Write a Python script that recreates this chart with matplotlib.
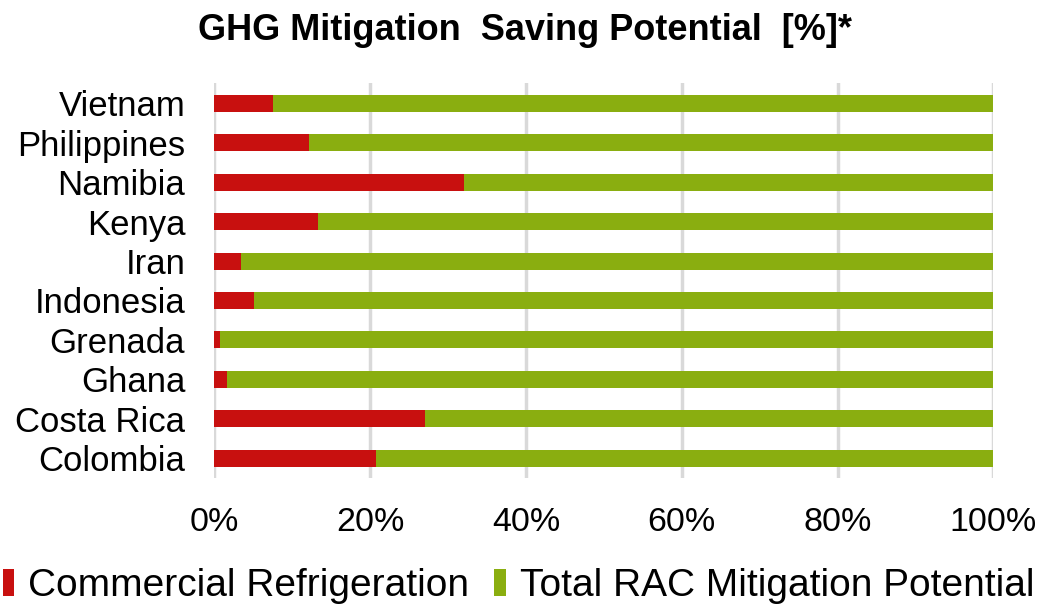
import numpy as np
import matplotlib.pyplot as plt

countries = ['Colombia', 'Costa Rica', 'Ghana', 'Grenada', 'Indonesia',
             'Iran', 'Kenya', 'Namibia', 'Philippines', 'Vietnam']
commercial = [20.8, 27.1, 1.6, 0.75, 5.1, 3.4, 13.3, 32.0, 12.1, 7.5]
total_rac = [100 - v for v in commercial]

red = '#C8100F'
green = '#8AAE10'

plt.rcParams['font.family'] = ['Liberation Sans', 'DejaVu Sans']

fig = plt.figure(figsize=(10.43, 6.09), dpi=100)
ax = fig.add_axes([0.2055, 0.215, 0.747, 0.648])

y = np.arange(len(countries))
ax.barh(y, commercial, height=0.43, color=red, label='Commercial Refrigeration', zorder=3)
ax.barh(y, total_rac, left=commercial, height=0.43, color=green,
        label='Total RAC Mitigation Potential', zorder=3)

ax.set_xlim(0, 100)
ax.set_ylim(-0.5, len(countries) - 0.5)
ax.set_yticks(y)
ax.set_yticklabels(countries, fontsize=25)
ax.set_xticks([0, 20, 40, 60, 80, 100])
ax.set_xticklabels(['0%', '20%', '40%', '60%', '80%', '100%'], fontsize=24.5)
ax.tick_params(axis='y', length=0, pad=21)
ax.tick_params(axis='x', length=0, pad=21)
ax.xaxis.grid(True, color='#D9D9D9', linewidth=2.5, zorder=0)
for s in ax.spines.values():
    s.set_visible(False)

fig.suptitle('GHG Mitigation  Saving Potential  [%]*', fontsize=26,
             fontweight='bold', x=0.503, y=0.978)

fig.legend(loc='lower center', bbox_to_anchor=(0.497, -0.05), ncol=2, frameon=False,
           fontsize=28, handlelength=0.3, handleheight=0.7, handletextpad=0.35,
           columnspacing=0.65)

fig.savefig('out.png', dpi=100)
